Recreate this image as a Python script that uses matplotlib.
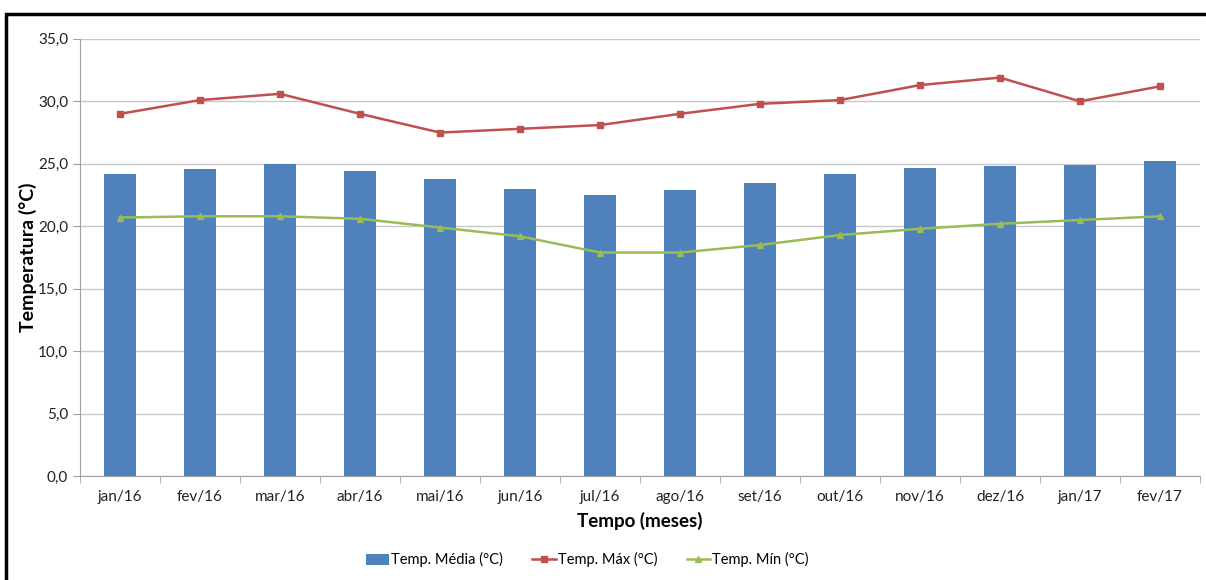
"""Temperatura mensal: media (barras), maxima e minima (linhas)."""

import matplotlib.pyplot as plt
import numpy as np
from matplotlib.patches import Rectangle
from matplotlib.ticker import FuncFormatter

meses = ['jan/16', 'fev/16', 'mar/16', 'abr/16', 'mai/16', 'jun/16', 'jul/16',
         'ago/16', 'set/16', 'out/16', 'nov/16', 'dez/16', 'jan/17', 'fev/17']
temp_media = [24.2, 24.6, 25.0, 24.4, 23.8, 23.0, 22.5,
              22.9, 23.5, 24.2, 24.7, 24.8, 24.9, 25.2]
temp_max = [29.0, 30.1, 30.6, 29.0, 27.5, 27.8, 28.1,
            29.0, 29.8, 30.1, 31.3, 31.9, 30.0, 31.2]
temp_min = [20.7, 20.8, 20.8, 20.6, 19.9, 19.2, 17.9,
            17.9, 18.5, 19.3, 19.8, 20.2, 20.5, 20.8]

plt.rcParams['font.family'] = ['Lato', 'DejaVu Sans']

fig = plt.figure(figsize=(12.06, 5.8), dpi=100)
ax = fig.add_axes([0.0663, 0.179, 0.9287, 0.754])

x = np.arange(len(meses))
barras = ax.bar(x, temp_media, width=0.4, color='#4F81BD', label='Temp. Média (°C)', zorder=2)
l_max, = ax.plot(x, temp_max, color='#C0504D', marker='s', markersize=5, linewidth=1.8,
                 label='Temp. Máx (°C)', zorder=3)
l_min, = ax.plot(x, temp_min, color='#9BBB59', marker='^', markersize=5, linewidth=1.8,
                 label='Temp. Mín (°C)', zorder=3)

ax.set_xlim(-0.5, len(meses) - 0.5)
ax.set_ylim(0, 35)
ax.set_yticks(np.arange(0, 35.1, 5))
ax.yaxis.set_major_formatter(FuncFormatter(lambda v, p: f'{v:.1f}'.replace('.', ',')))
ax.set_xticks(x)
ax.set_xticklabels(meses)
ax.set_xticks(np.arange(-0.5, len(meses), 1), minor=True)
ax.tick_params(axis='x', which='major', length=0, labelsize=11, colors='#222222', pad=10)
ax.tick_params(axis='x', which='minor', length=5, color='#A0A0A0', direction='out')
ax.tick_params(axis='y', length=5, color='#A0A0A0', labelsize=11, labelcolor='#222222')

ax.grid(axis='y', color='#C8C8C8', linewidth=1, zorder=0)
ax.set_axisbelow(True)
for s in ['top', 'right']:
    ax.spines[s].set_visible(False)
ax.spines['left'].set_color('#A0A0A0')
ax.spines['bottom'].set_color('#A0A0A0')

ax.set_xlabel('Tempo (meses)', fontsize=13.5, fontweight='bold', labelpad=6)
ax.set_ylabel('Temperatura (°C)', fontsize=14, fontweight='bold', labelpad=1)

fig.legend([barras, l_max, l_min], ['Temp. Média (°C)', 'Temp. Máx (°C)', 'Temp. Mín (°C)'],
           loc='center', bbox_to_anchor=(0.487, 0.035), ncol=3, frameon=False,
           fontsize=10.5, handlelength=1.6, handleheight=0.8, columnspacing=2.0,
           handletextpad=0.15)

fig.patches.append(Rectangle((6 / 1206, -0.1), 1.2, 0.1 + 566 / 580,
                             transform=fig.transFigure, fill=False,
                             edgecolor='black', linewidth=2.5))

fig.savefig('out.png', dpi=100)
